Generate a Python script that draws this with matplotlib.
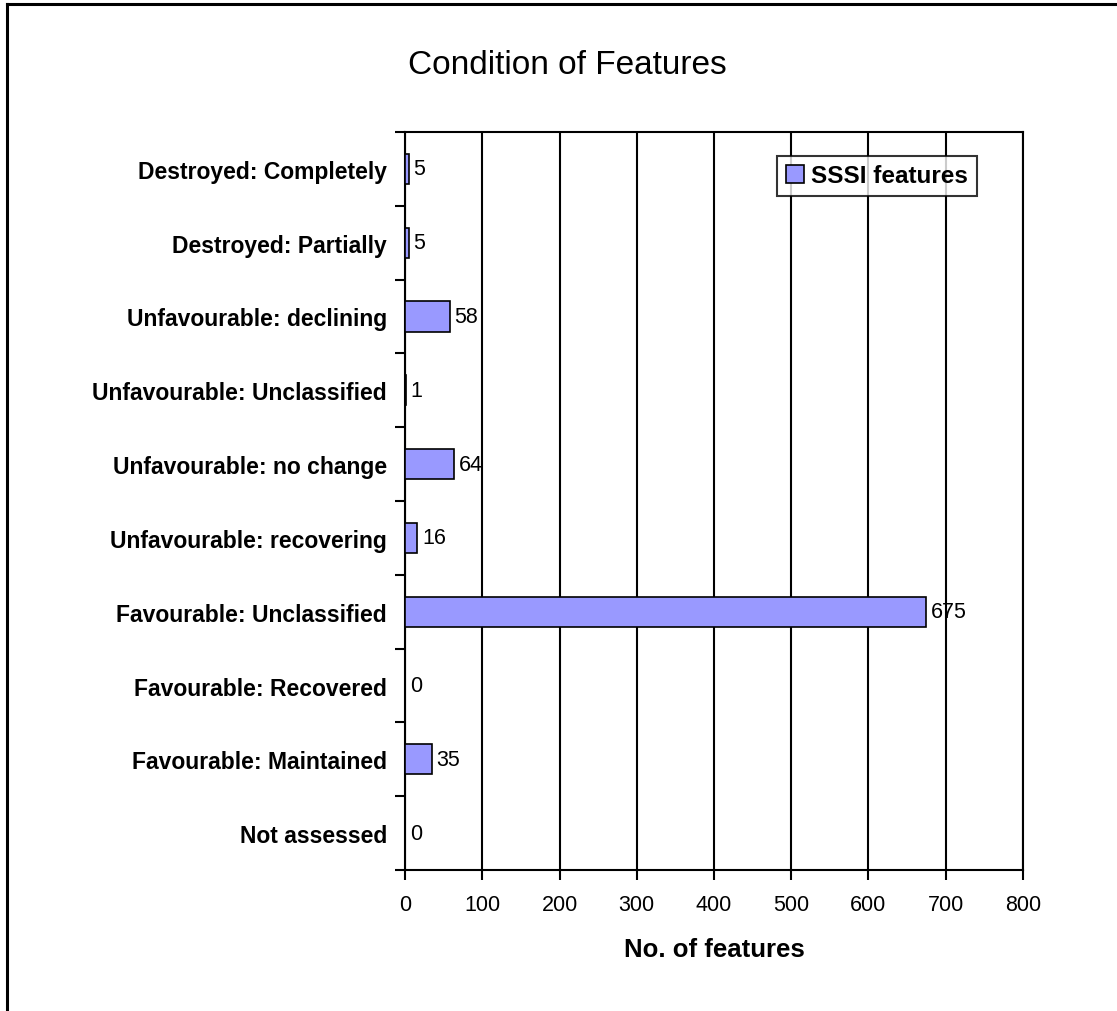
import matplotlib
matplotlib.use("Agg")
import matplotlib.pyplot as plt
from matplotlib.lines import Line2D

categories = [
    "Destroyed: Completely",
    "Destroyed: Partially",
    "Unfavourable: declining",
    "Unfavourable: Unclassified",
    "Unfavourable: no change",
    "Unfavourable: recovering",
    "Favourable: Unclassified",
    "Favourable: Recovered",
    "Favourable: Maintained",
    "Not assessed",
]
sssi_features = [5, 5, 58, 1, 64, 16, 675, 0, 35, 0]
x_ticks = [0, 100, 200, 300, 400, 500, 600, 700, 800]

plt.rcParams["font.family"] = ["Liberation Sans", "DejaVu Sans"]

fig = plt.figure(figsize=(11.17, 10.12), dpi=100)
ax = fig.add_axes([0.3626, 0.1393, 0.9158 - 0.3626, 0.8686 - 0.1393])

n = len(categories)
ypos = list(range(n))
ax.barh(ypos, sssi_features, height=0.41, color="#9999FF",
        edgecolor="black", linewidth=1.2, label="SSSI features", zorder=3)

for y, v in zip(ypos, sssi_features):
    ax.text(v + 6, y, str(v), va="center", ha="left", fontsize=15.5, zorder=4)

ax.set_xlim(0, 800)
ax.set_ylim(n - 0.5, -0.5)
ax.set_xticks(x_ticks)
ax.set_xticklabels([str(t) for t in x_ticks], fontsize=15.5)

# category labels centred on the bars, tick marks on the boundaries
ax.set_yticks(ypos)
ax.set_yticklabels(categories, fontsize=16.5, fontweight="bold")
ax.tick_params(axis="y", length=0, pad=13)
ax.set_yticks([i - 0.5 for i in range(n + 1)], minor=True)
ax.tick_params(axis="y", which="minor", length=7, width=1.5, direction="out")
ax.tick_params(axis="x", length=7, width=1.5, direction="out", pad=10)

ax.grid(axis="x", color="black", linewidth=1.5, zorder=1)
for s in ax.spines.values():
    s.set_linewidth(1.5)
    s.set_color("black")

ax.set_xlabel("No. of features", fontsize=18.5, fontweight="bold", labelpad=16)

leg = ax.legend(loc="upper right", bbox_to_anchor=(0.925, 0.968),
                prop={"size": 17.5, "weight": "bold"}, frameon=True,
                fancybox=False, handlelength=0.75, handleheight=0.75,
                handletextpad=0.3, borderpad=0.35, borderaxespad=0)
leg.get_frame().set_edgecolor("black")
leg.get_frame().set_linewidth(1.5)

fig.text(0.5075, 0.935, "Condition of Features", ha="center", va="center",
         fontsize=24, fontweight="medium")

# chart area border
fig.add_artist(Line2D([0.0065, 0.0065], [0.0, 0.995], transform=fig.transFigure,
                      color="black", linewidth=2.2))
fig.add_artist(Line2D([0.0065, 1.0], [0.995, 0.995], transform=fig.transFigure,
                      color="black", linewidth=2.2))

fig.savefig("out.png", dpi=100, facecolor="white")
